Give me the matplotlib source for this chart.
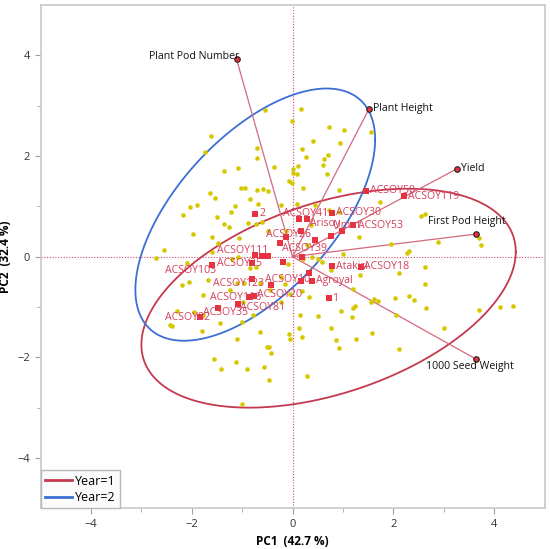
import numpy as np
import matplotlib
matplotlib.use("Agg")
import matplotlib.pyplot as plt

plt.rcParams["font.family"] = ["Open Sans", "DejaVu Sans"]

# PCA scores of the individual plots (yellow dots)
yellow_x = [-0.55, 0.16, -0.01, 0.72, 1.03, 1.56, -1.61, 0.41, 0.94, -0.70,
            0.18, -1.73, -0.71, 0.27, 0.63, 0.71, -0.36, -1.08, -1.37, 0.01,
            0.61, 0.10, 0.69, 0.00, 0.09, -0.07, -0.01, -1.02, -0.95, -0.71,
            -0.58, -0.48, 0.21, 0.92, -1.63, -1.53, -0.84, -0.69, -1.15, -0.22,
            0.08, 0.44, -2.04, -1.89, -1.23, 0.73, 0.93, 1.74, -2.18, -1.49,
            -1.37, -1.26, -0.89, -0.72, -0.60, -0.48, -1.98, -1.59, 0.36, 2.54,
            2.62, 1.32, 3.71, 1.96, 2.89, 3.73, 2.27, 2.32, 1.01, 0.38,
            -2.56, -2.71, -2.10, -1.59, -1.09, -1.21, -0.85, -0.73, -0.09, 0.20,
            0.51, 2.62, 2.11, 1.33, 0.76, -0.22, -1.68, -2.06, -2.19, -1.11,
            -0.96, -0.65, -0.15, 2.62, 1.20, 0.18, -1.25, -0.45, -0.05, -1.78,
            0.33, 1.69, 1.61, 1.56, 2.03, 2.32, 2.42, -0.98, -0.22, 2.65,
            1.24, 1.19, 0.97, 0.50, 0.15, 1.18, 2.05, 3.70, 4.11, 4.38,
            -2.30, -1.96, -1.78, -0.78, -2.44, -2.39, -1.43, -1.01, 0.13, 0.76,
            3.01, -1.79, -0.64, -0.08, -0.05, 0.18, -1.10, 1.58, 0.86, 1.25,
            0.93, 2.12, -0.50, -0.46, -0.43, -1.55, -1.13, -1.41, -0.91, -0.56,
            -0.47, 0.28, -1.01, -1.07, -1.47, -0.13, 0.28, 0.58]
yellow_y = [2.92, 2.94, 2.69, 2.57, 2.51, 2.47, 2.39, 2.30, 2.25, 2.16,
            2.14, 2.07, 1.96, 1.98, 1.95, 2.01, 1.78, 1.77, 1.71, 1.75,
            1.83, 1.81, 1.64, 1.66, 1.64, 1.51, 1.46, 1.37, 1.37, 1.33,
            1.35, 1.31, 1.37, 1.32, 1.26, 1.17, 1.14, 1.05, 1.00, 1.02,
            1.04, 1.03, 0.98, 1.03, 0.89, 0.93, 0.89, 1.08, 0.82, 0.78,
            0.65, 0.58, 0.67, 0.65, 0.69, 0.50, 0.45, 0.39, 0.63, 0.80,
            0.84, 0.40, 0.37, 0.25, 0.29, 0.23, 0.07, 0.12, 0.05, -0.01,
            0.13, -0.02, -0.13, 0.09, -0.01, -0.05, -0.22, -0.20, -0.15, -0.04,
            -0.05, -0.21, -0.32, -0.36, -0.26, -0.40, -0.46, -0.50, -0.57, -0.53,
            -0.52, -0.53, -0.55, -0.54, -0.65, -0.68, -0.67, -0.66, -0.74, -0.77,
            -0.81, -0.88, -0.84, -0.90, -0.82, -0.78, -0.87, -0.91, -0.91, -1.02,
            -0.98, -1.03, -1.08, -1.18, -1.16, -1.20, -1.16, -1.06, -1.00, -0.98,
            -1.08, -1.10, -1.16, -1.16, -1.36, -1.37, -1.31, -1.29, -1.41, -1.42,
            -1.41, -1.47, -1.50, -1.53, -1.64, -1.59, -1.64, -1.52, -1.65, -1.64,
            -1.81, -1.84, -1.80, -1.80, -1.91, -2.04, -2.10, -2.23, -2.23, -2.20,
            -2.46, -2.38, -2.93, 0.38, 0.28, 0.50, 0.23, -0.10]

# genotype means (red squares); "" = unlabeled
geno_names = ["2", "ACSOY41", "Arisoy", "ACSOY30", "ACSOY50", "ACSOY119", "ACSOY53",
              "Umut", "", "", "ACSOY26", "", "", "ACSOY111", "", "", "ACSOY39", "",
              "ACSOY103", "ACSOY25", "", "Atakisi", "ACSOY18", "ACSOY123", "ACSOY10",
              "", "Agroyal", "ACSOY116", "ACSOY20", "ACSOY81", "1", "ACSOY35", "ACSOY82"]
geno_x = [-0.74, 0.12, 0.29, 0.79, 1.46, 2.21, 1.20, 0.98, 0.76, 0.16, -0.12,
          -0.25, 0.45, -0.74, -0.61, -0.48, 0.19, -0.19, -1.60, -0.80, 0.32, 0.79,
          1.36, -0.80, -0.43, 0.16, 0.39, -0.87, -0.77, -1.09, 0.72, -1.48, -1.84]
geno_y = [0.84, 0.75, 0.75, 0.86, 1.31, 1.20, 0.62, 0.50, 0.42, 0.51, 0.40,
          0.27, 0.33, 0.03, 0.02, 0.02, -0.01, -0.10, -0.17, -0.13, -0.32, -0.19,
          -0.20, -0.44, -0.56, -0.48, -0.48, -0.81, -0.78, -0.94, -0.83, -1.02, -1.20]

# trait loadings (biplot rays)
load_names = ["Plant Pod Number", "Plant Height", "Yield", "First Pod Height", "1000 Seed Weight"]
load_x = [-1.11, 1.52, 3.27, 3.65, 3.65]
load_y = [3.92, 2.94, 1.75, 0.45, -2.04]

# density ellipses per year
years = ["Year=1", "Year=2"]
ell_center = [(0.715, -0.825), (-0.74, 0.835)]
ell_cov = [[[13.8, 3.43], [3.43, 4.73]],
           [[5.66, 3.55], [3.55, 6.28]]]
year_colors = ["#c4394f", "#3b6fd4"]

# label placement, in pixels from the point (layout only)
geno_offsets = {
    "2": (4, 1), "ACSOY41": (-16, 5), "Arisoy": (3, -5), "ACSOY30": (4, 1),
    "ACSOY50": (4, 0), "ACSOY119": (4, 0), "ACSOY53": (5, 0), "Umut": (-9, 6),
    "ACSOY26": (-20, 2), "ACSOY39": (-20, 9), "ACSOY111": (-38, 5),
    "ACSOY25": (-35, 0), "ACSOY103": (-47, -5), "ACSOY123": (-39, -5),
    "ACSOY10": (-6, 5), "Agroyal": (3.5, 0), "1": (3.5, 0), "Atakisi": (3.5, 0),
    "ACSOY18": (3, 0), "ACSOY116": (-39, 0), "ACSOY20": (3, 1),
    "ACSOY81": (2.5, -3.5), "ACSOY35": (-15, -5), "ACSOY82": (-35, 0),
}
load_offsets = {
    "Plant Pod Number": (3, 3, "right"), "Plant Height": (4, 0, "left"),
    "Yield": (4, 0, "left"), "First Pod Height": (-10, 13, "center"),
    "1000 Seed Weight": (-7, -7, "center"),
}

fig = plt.figure(figsize=(5.5, 5.49), dpi=100)
ax = fig.add_axes([0.0738, 0.0741, 0.9162, 0.9168])

t = np.linspace(0, 2 * np.pi, 400)
for name, c, cov, col in zip(years, ell_center, ell_cov, year_colors):
    L = np.linalg.cholesky(np.array(cov))
    pts = L @ np.vstack([np.cos(t), np.sin(t)])
    ax.plot(c[0] + pts[0], c[1] + pts[1], color=col, lw=1.3, label=name, zorder=2)

ax.axhline(0, color="#d04a68", lw=0.8, ls=(0, (1, 1.5)), zorder=1)
ax.axvline(0, color="#d04a68", lw=0.8, ls=(0, (1, 1.5)), zorder=1)

for lx, ly in zip(load_x, load_y):
    ax.plot([0, lx], [0, ly], color="#d4687c", lw=0.9, zorder=3)

ax.scatter(yellow_x, yellow_y, s=11, color="#d6c800", linewidths=0, zorder=4)
ax.scatter(geno_x, geno_y, marker="s", s=13, color="#e8323f", linewidths=0, zorder=5)
ax.scatter(load_x, load_y, s=16, color="#e8323f", edgecolors="#222222",
           linewidths=0.8, zorder=6)

for name, gx, gy in zip(geno_names, geno_x, geno_y):
    if not name:
        continue
    dx, dy = geno_offsets[name]
    ax.annotate(name, (gx, gy), xytext=(dx, dy), textcoords="offset pixels",
                ha="left", va="center", fontsize=7.6, color="#d2405c", zorder=7)

for name, lx, ly in zip(load_names, load_x, load_y):
    dx, dy, ha = load_offsets[name]
    ax.annotate(name, (lx, ly), xytext=(dx, dy), textcoords="offset pixels",
                ha=ha, va="center", fontsize=7.6, color="#111111", zorder=7)

ax.set_xlim(-5, 5)
ax.set_ylim(-5, 5)
ax.set_xticks([-4, -2, 0, 2, 4])
ax.set_yticks([-4, -2, 0, 2, 4])
ax.set_xticks([-3, -1, 1, 3], minor=True)
ax.set_yticks([-3, -1, 1, 3], minor=True)
ax.tick_params(which="both", direction="out", color="#a0a0a0", labelcolor="#333333",
               labelsize=8)
ax.tick_params(which="major", length=4)
ax.tick_params(which="minor", length=3)
for sp in ax.spines.values():
    sp.set_color("#c8c8c8")
    sp.set_linewidth(1.2)

ax.set_xlabel("PC1  (42.7 %)", fontsize=8.5, fontweight="bold", labelpad=4)
ax.set_ylabel("PC2  (32.4 %)", fontsize=8.5, fontweight="bold")
ax.yaxis.set_label_coords(-0.056, 0.5)

leg = ax.legend(loc="lower left", borderaxespad=0, fancybox=False, framealpha=1,
                edgecolor="#b8b8b8", facecolor="#fbfbfb", fontsize=9,
                handlelength=2.2, handletextpad=0.2, borderpad=0.35, labelspacing=0.25)
for line in leg.get_lines():
    line.set_linewidth(2)

fig.savefig("out.png", dpi=100)
